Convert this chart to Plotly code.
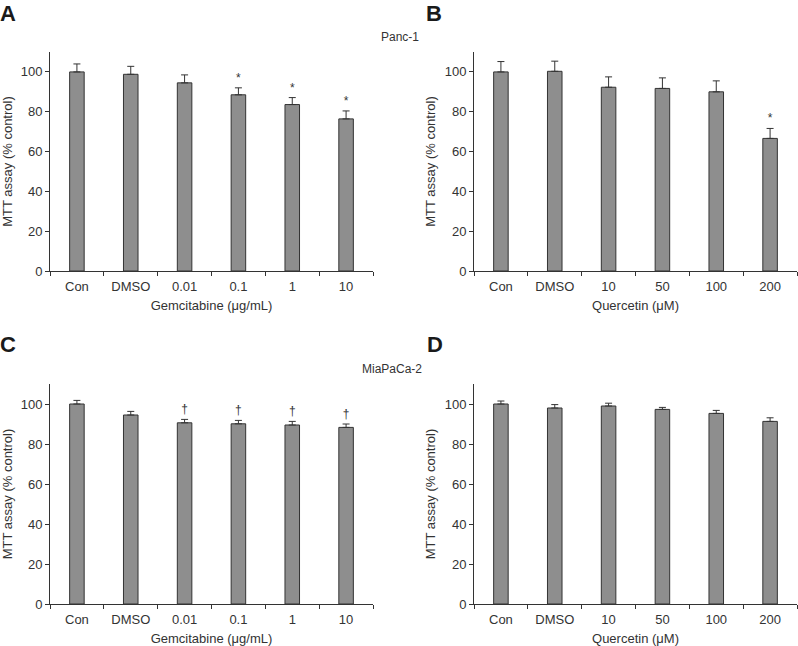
import plotly.graph_objects as go

gem_labels = ["Con", "DMSO", "0.01", "0.1", "1", "10"]
que_labels = ["Con", "DMSO", "10", "50", "100", "200"]

panc_gem_mean = [100, 98.8, 94.5, 88.5, 83.6, 76.4]
panc_gem_sd = [4.0, 4.0, 4.0, 3.5, 3.5, 4.0]
panc_gem_sig = ["", "", "", "*", "*", "*"]

panc_que_mean = [100, 100.3, 92.3, 91.7, 90.0, 66.6]
panc_que_sd = [5.2, 5.1, 5.2, 5.3, 5.5, 5.0]
panc_que_sig = ["", "", "", "", "", "*"]

mia_gem_mean = [100, 94.5, 90.6, 90.1, 89.5, 88.3]
mia_gem_sd = [1.8, 1.8, 1.7, 1.7, 1.8, 1.7]
mia_gem_sig = ["", "", "†", "†", "†", "†"]

mia_que_mean = [100, 98.0, 99.0, 97.3, 95.3, 91.3]
mia_que_sd = [1.5, 1.7, 1.4, 1.0, 1.5, 1.8]
mia_que_sig = ["", "", "", "", "", ""]

W, H = 798, 646
FONT = "Liberation Sans, Arial, Helvetica, sans-serif"
TXT = "#333333"
BAR = "#8e8e8e"
EDGE = "#333333"

panels = [
    ("x", "y", gem_labels, panc_gem_mean, panc_gem_sd, panc_gem_sig, "Gemcitabine (μg/mL)"),
    ("x2", "y2", que_labels, panc_que_mean, panc_que_sd, panc_que_sig, "Quercetin (μM)"),
    ("x3", "y3", gem_labels, mia_gem_mean, mia_gem_sd, mia_gem_sig, "Gemcitabine (μg/mL)"),
    ("x4", "y4", que_labels, mia_que_mean, mia_que_sd, mia_que_sig, "Quercetin (μM)"),
]

# pixel boxes (left, right, top, bottom)
boxes = [(50, 373, 52, 271), (474, 797, 52, 271), (50, 373, 384, 604), (474, 797, 384, 604)]

SIG_GAP = 1.5  # data units between error cap and significance mark

fig = go.Figure()
for (xa, ya, labels, mean, sd, sig, xtitle) in panels:
    fig.add_trace(go.Bar(
        x=labels, y=mean, xaxis=xa, yaxis=ya, width=0.27,
        marker=dict(color=BAR, line=dict(color=EDGE, width=1)),
        error_y=dict(type="data", array=sd, arrayminus=[0] * len(sd), symmetric=False,
                     color=EDGE, thickness=1, width=3.5),
        showlegend=False, hoverinfo="skip",
    ))
    tops = [m + s + SIG_GAP for m, s in zip(mean, sd)]
    fig.add_trace(go.Scatter(
        x=labels, y=tops, xaxis=xa, yaxis=ya, mode="text", text=sig,
        textposition="top center", textfont=dict(family=FONT, size=12, color=TXT),
        showlegend=False, hoverinfo="skip",
    ))

layout = dict(
    width=W, height=H, margin=dict(l=0, r=0, t=0, b=0),
    paper_bgcolor="white", plot_bgcolor="white",
    font=dict(family=FONT, size=13, color=TXT),
    bargap=0.73,
)

for i, ((xa, ya, labels, mean, sd, sig, xtitle), (l, r, t, b)) in enumerate(zip(panels, boxes)):
    xk = "xaxis" if i == 0 else f"xaxis{i+1}"
    yk = "yaxis" if i == 0 else f"yaxis{i+1}"
    layout[xk] = dict(
        domain=[l / W, r / W], anchor=ya, type="category",
        range=[-0.5, 5.5], showline=True, linecolor=EDGE, linewidth=1,
        ticks="outside", tickson="boundaries", ticklen=4, tickcolor=EDGE,
        ticklabelstandoff=3,
        showgrid=False, zeroline=False, automargin=False,
        tickfont=dict(family=FONT, size=13, color=TXT),
        title=dict(text=xtitle, standoff=8, font=dict(family=FONT, size=13, color=TXT)),
    )
    layout[yk] = dict(
        domain=[1 - b / H, 1 - t / H], anchor=xa,
        range=[0, 110], tickvals=[0, 20, 40, 60, 80, 100],
        showline=True, linecolor=EDGE, linewidth=1,
        ticks="outside", ticklen=4, tickcolor=EDGE,
        showgrid=False, zeroline=False, automargin=False,
        tickfont=dict(family=FONT, size=13, color=TXT),
        title=dict(text="MTT assay (% control)", standoff=6,
                   font=dict(family=FONT, size=13, color=TXT)),
    )

fig.update_layout(**layout)

letters = [("A", 8, 13), ("B", 434, 13), ("C", 8, 345), ("D", 435, 345)]
for txt, px, py in letters:
    fig.add_annotation(text=f"<b>{txt}</b>", x=px / W, y=1 - py / H, xref="paper", yref="paper",
                       showarrow=False, xanchor="center", yanchor="middle",
                       font=dict(family="Liberation Sans Narrow, Arial Narrow, Liberation Sans, Arial",
                                 size=22, color="#1a1a1a"))

for txt, px, py in [("Panc-1", 400, 37), ("MiaPaCa-2", 392, 369)]:
    fig.add_annotation(text=txt, x=px / W, y=1 - py / H, xref="paper", yref="paper",
                       showarrow=False, xanchor="center", yanchor="middle",
                       font=dict(family=FONT, size=12, color=TXT))

fig.write_html("out.html", config={"displayModeBar": False},
               post_script="document.body.style.margin='0px';document.body.style.overflow='hidden';")
